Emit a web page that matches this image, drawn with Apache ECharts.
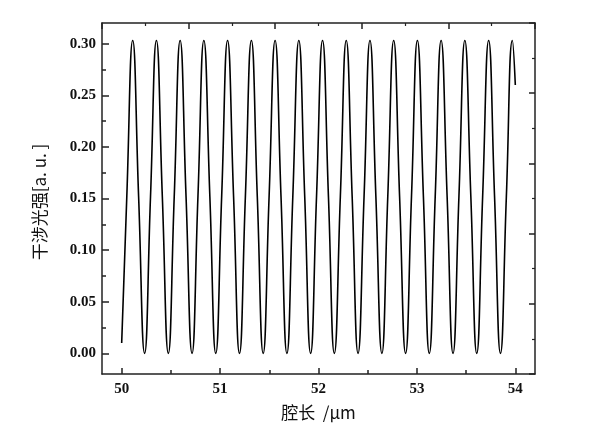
<!DOCTYPE html>
<html><head><meta charset="utf-8">
<script src="https://cdn.jsdelivr.net/npm/echarts@6/dist/echarts.min.js"></script>
<style>html,body{margin:0;padding:0;background:#fff}#c{width:600px;height:431px}</style>
</head><body><div id="c"></div>
<script>
// cavity length (µm) and interference intensity (a.u.)
const xValues = [
  50.000, 50.052, 50.112, 50.172, 50.233, 50.293,
  50.353, 50.413, 50.474, 50.534,
  50.594, 50.654, 50.715, 50.775,
  50.835, 50.896, 50.956, 51.016,
  51.076, 51.137, 51.197, 51.257,
  51.318, 51.378, 51.438, 51.498,
  51.559, 51.619, 51.679, 51.739,
  51.800, 51.860, 51.920, 51.980,
  52.041, 52.101, 52.161, 52.222,
  52.282, 52.342, 52.402, 52.463,
  52.523, 52.583, 52.644, 52.704,
  52.764, 52.824, 52.885, 52.945,
  53.005, 53.066, 53.126, 53.186,
  53.246, 53.307, 53.367, 53.427,
  53.487, 53.548, 53.608, 53.668,
  53.729, 53.789, 53.849, 53.909,
  53.970, 54.000
];
const yValues = [
  0.010, 0.152, 0.303, 0.152, 0.000, 0.152,
  0.303, 0.152, 0.000, 0.152,
  0.303, 0.152, 0.000, 0.152,
  0.303, 0.152, 0.000, 0.152,
  0.303, 0.152, 0.000, 0.152,
  0.303, 0.152, 0.000, 0.152,
  0.303, 0.152, 0.000, 0.152,
  0.303, 0.152, 0.000, 0.152,
  0.303, 0.152, 0.000, 0.152,
  0.303, 0.152, 0.000, 0.152,
  0.303, 0.152, 0.000, 0.152,
  0.303, 0.152, 0.000, 0.152,
  0.303, 0.152, 0.000, 0.152,
  0.303, 0.152, 0.000, 0.152,
  0.303, 0.152, 0.000, 0.152,
  0.303, 0.152, 0.000, 0.152,
  0.303, 0.260
];
const xMajorTicks = [50, 51, 52, 53, 54];
const xMinorTicks = [50.5, 51.5, 52.5, 53.5];
const yMajorTicks = [0, 0.05, 0.10, 0.15, 0.20, 0.25, 0.30];
const yMinorTicks = [0.025, 0.075, 0.125, 0.175, 0.225, 0.275];
const xName = '腔长  /μm';
const yName = '干涉光强[a. u. ]';

const axisColor = '#222';
const labelFont = { fontFamily: 'Liberation Serif', fontWeight: 'bold', color: '#111' };
const chart = echarts.init(document.getElementById('c'), null, { renderer: 'canvas' });
const data = xValues.map((x, i) => [x, yValues[i]]);
const lineStyle = { color: axisColor, width: 1.5 };

chart.setOption({
  animation: false,
  backgroundColor: '#fff',
  grid: { left: 102, right: 65, top: 23, bottom: 57, containLabel: false },
  xAxis: [
    {
      type: 'value', position: 'bottom', min: 49.8, max: 54.2,
      axisLine: { show: true, onZero: false, lineStyle },
      axisTick: { show: true, inside: true, length: 6, customValues: xMajorTicks, lineStyle },
      axisLabel: { show: true, margin: 8, fontSize: 15, customValues: xMajorTicks, ...labelFont,
        formatter: v => String(Math.round(v)) },
      splitLine: { show: false },
      name: xName, nameLocation: 'middle', nameGap: 30,
      nameTextStyle: { fontFamily: 'Noto Sans CJK SC', fontSize: 17, color: '#111' }
    },
    {
      type: 'value', position: 'top', min: 0, max: 10, interval: 2,
      axisLine: { show: true, onZero: false, lineStyle },
      axisTick: { show: true, inside: true, length: 6, lineStyle },
      minorTick: { show: true, splitNumber: 2, length: 3, lineStyle: { color: axisColor, width: 1.2 } },
      axisLabel: { show: false }, splitLine: { show: false }, minorSplitLine: { show: false }
    },
    {
      type: 'value', position: 'bottom', min: 49.8, max: 54.2,
      axisLine: { show: false, onZero: false },
      axisTick: { show: true, inside: true, length: 4, customValues: xMinorTicks, lineStyle },
      axisLabel: { show: false }, splitLine: { show: false }
    }
  ],
  yAxis: [
    {
      type: 'value', position: 'left', min: -0.02, max: 0.32,
      axisLine: { show: true, onZero: false, lineStyle },
      axisTick: { show: true, inside: true, length: 7, customValues: yMajorTicks, lineStyle },
      axisLabel: { show: true, margin: 6, fontSize: 15, customValues: yMajorTicks, ...labelFont,
        formatter: v => v.toFixed(2) },
      splitLine: { show: false },
      name: yName, nameLocation: 'middle', nameGap: 54, nameRotate: 90,
      nameTextStyle: { fontFamily: 'Noto Sans CJK SC', fontSize: 17, color: '#111', padding: [0, 7, 0, 0] }
    },
    {
      type: 'value', position: 'right', min: 0, max: 10, interval: 2,
      axisLine: { show: true, onZero: false, lineStyle },
      axisTick: { show: true, inside: true, length: 6, lineStyle },
      minorTick: { show: true, splitNumber: 2, length: 3, lineStyle: { color: axisColor, width: 1.2 } },
      axisLabel: { show: false }, splitLine: { show: false }, minorSplitLine: { show: false }
    },
    {
      type: 'value', position: 'left', min: -0.02, max: 0.32,
      axisLine: { show: false, onZero: false },
      axisTick: { show: true, inside: true, length: 4, customValues: yMinorTicks, lineStyle },
      axisLabel: { show: false }, splitLine: { show: false }
    }
  ],
  series: [{
    type: 'line', xAxisIndex: 0, yAxisIndex: 0, data,
    smooth: true, showSymbol: false, symbol: 'none',
    lineStyle: { color: '#000', width: 1.6 }
  }]
});
</script></body></html>
